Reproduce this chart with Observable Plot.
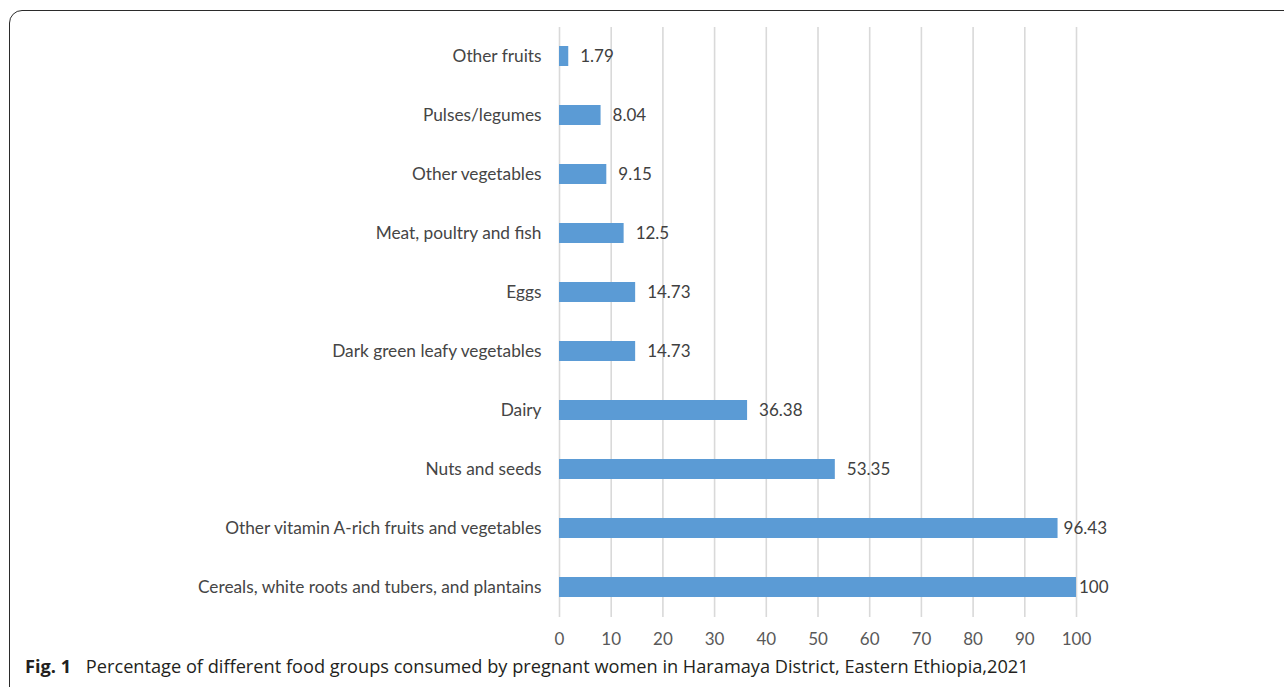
<!DOCTYPE html>
<html>
<head>
<meta charset="utf-8">
<script src="https://cdn.jsdelivr.net/npm/d3@7"></script>
<script src="https://cdn.jsdelivr.net/npm/@observablehq/plot@0.6"></script>
<style>
  html, body { margin: 0; padding: 0; background: #fff; width: 1284px; height: 687px; overflow: hidden; }
  #frame { position: absolute; left: 9px; top: 10px; width: 1400px; height: 800px; border: 1.3px solid #2b2b2b; border-radius: 13px; box-sizing: border-box; }
  #chart { position: absolute; left: 0; top: 0; }
  #caption { position: absolute; left: 25px; top: 654px; font-family: "Open Sans", sans-serif; font-size: 18.2px; line-height: 25px; color: #231f20; white-space: nowrap; }
  #caption b { font-weight: 700; margin-right: 10px; }
</style>
</head>
<body>
<div id="frame"></div>
<div id="chart"></div>
<div id="caption"><b>Fig. 1</b> Percentage of different food groups consumed by pregnant women in Haramaya District, Eastern Ethiopia,2021</div>
<script>
const groups = [
  "Other fruits",
  "Pulses/legumes",
  "Other vegetables",
  "Meat, poultry and fish",
  "Eggs",
  "Dark green leafy vegetables",
  "Dairy",
  "Nuts and seeds",
  "Other vitamin A-rich fruits and vegetables",
  "Cereals, white roots and tubers, and plantains"
];
const values = [1.79, 8.04, 9.15, 12.5, 14.73, 14.73, 36.38, 53.35, 96.43, 100];
const xTicks = [0, 10, 20, 30, 40, 50, 60, 70, 80, 90, 100];

const data = groups.map((g, i) => ({group: g, value: values[i]}));
const FS = 17;
const CAT_FS = 17.3;
const labelFont = `${FS}px Lato, sans-serif`;

const ctx2 = document.createElement("canvas").getContext("2d");
ctx2.font = labelFont;

const W = 1284, H = 655;
const PI = 0.66;
const plot = Plot.plot({
  width: W,
  height: H,
  marginLeft: 559,
  marginRight: 208,
  marginTop: 27,
  marginBottom: 38,
  style: {fontFamily: "Lato, sans-serif", fontSize: FS + "px", background: "transparent"},
  x: {domain: [0, 100], ticks: xTicks, label: null},
  y: {domain: groups, paddingInner: PI, paddingOuter: PI / 2, label: null},
  marks: [
    Plot.ruleX(xTicks, {stroke: "#d9d9d9", strokeWidth: 1.6}),
    Plot.barX(data, {x: "value", y: "group", fill: "#5b9bd5"}),
    Plot.axisX({ticks: xTicks, tickSize: 0, tickPadding: 15, fill: "#595959", color: "#595959", fontSize: FS, label: null}),
    Plot.axisY({tickSize: 0, tickPadding: 18, fill: "#454545", color: "#454545", fontSize: CAT_FS, label: null}),
    Plot.text(data, {
      x: "value", y: "group", text: d => String(d.value),
      render: (index, scales, vals, dims, context, next) => {
        const limit = dims.width - dims.marginRight + 31;
        const n = groups.length;
        const step = (dims.height - dims.marginTop - dims.marginBottom) / n;
        const bw = step * (1 - PI);
        const g = d3.create("svg:g")
          .attr("font-family", "Lato, sans-serif")
          .attr("font-size", FS)
          .attr("text-anchor", "start")
          .attr("fill", "#404040");
        for (const i of index) {
          const t = String(data[i].value);
          const w = ctx2.measureText(t).width;
          let x = vals.x[i] + 12;
          if (x + w > limit) x = Math.max(vals.x[i] + 3, limit - w);
          g.append("text").attr("x", x).attr("y", vals.y[i] + bw / 2).attr("dy", "0.35em").text(t);
        }
        return g.node();
      }
    })
  ]
});
document.getElementById("chart").appendChild(plot);
</script>
</body>
</html>
